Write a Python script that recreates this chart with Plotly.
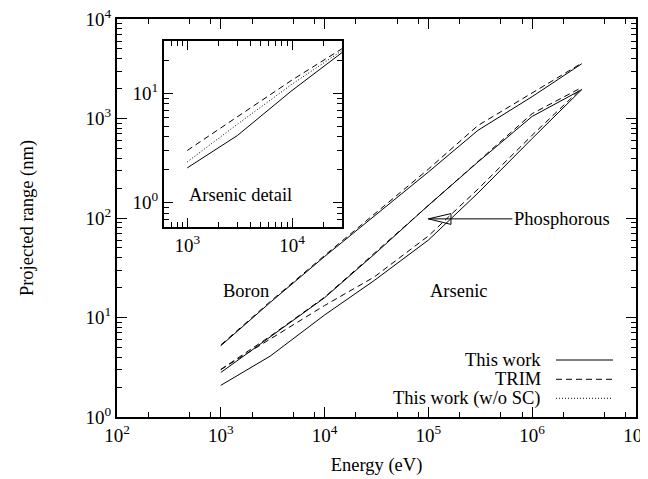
import numpy as np
import plotly.graph_objects as go

# ---------------- data ----------------
energy_ev = [1e3, 3e3, 1e4, 3e4, 1e5, 3e5, 1e6, 3e6]

boron_this_work = [5.2, 14.2, 41, 104, 290, 760, 1660, 3550]
boron_trim = [5.3, 14.5, 42, 110, 310, 850, 1800, 3600]

phos_this_work = [2.8, 6.4, 15.8, 43, 134, 365, 1050, 1950]
phos_trim = [3.0, 6.5, 16.0, 44, 136, 370, 1120, 2050]

arsenic_this_work = [2.08, 4.1, 10.6, 23.5, 60, 178, 630, 1950]
arsenic_trim = [3.0, 6.1, 13.2, 25.5, 66, 195, 680, 2020]

inset_energy_ev = [1e3, 3e3, 1e4, 3e4]
inset_arsenic_this_work = [2.08, 4.1, 10.6, 23.5]
inset_arsenic_trim = [3.0, 6.1, 13.2, 25.5]
inset_arsenic_no_sc = [2.36, 5.2, 12.1, 24.5]

x_tick_exps = [2, 3, 4, 5, 6, 7]
y_tick_exps = [0, 1, 2, 3, 4]
inset_x_tick_exps = [3, 4]
inset_y_tick_exps = [0, 1]

legend_names = ["This work", "TRIM", "This work (w/o SC)"]

FONT = "Liberation Serif, Times New Roman, serif"
TXT = 18.5
TICK = 19
SOLID = "solid"
DASH = "6px,4px"
DOT = "1px,2px"


def pow_labels(exps):
    return ["10<sup>%d</sup>" % e for e in exps]


def minor_vals(lo, hi, mults):
    return [m * 10.0 ** k for k in range(lo, hi) for m in mults]


fig = go.Figure()

main_series = [
    (boron_this_work, SOLID), (boron_trim, DASH),
    (phos_this_work, SOLID), (phos_trim, DASH),
    (arsenic_this_work, SOLID), (arsenic_trim, DASH),
]
for ys, dash in main_series:
    fig.add_trace(go.Scatter(x=energy_ev, y=ys, mode="lines",
                             line=dict(color="black", width=1, dash=dash),
                             showlegend=False, xaxis="x", yaxis="y"))

inset_series = [
    (inset_arsenic_this_work, SOLID),
    (inset_arsenic_trim, DASH),
    (inset_arsenic_no_sc, DOT),
]
for ys, dash in inset_series:
    fig.add_trace(go.Scatter(x=inset_energy_ev, y=ys, mode="lines",
                             line=dict(color="black", width=1, dash=dash),
                             showlegend=False, xaxis="x2", yaxis="y2"))


def axis(rng, exps, minors, domain, anchor, major_len=10, minor_len=5, **kw):
    d = dict(
        type="log", range=rng, domain=domain, anchor=anchor,
        showline=True, linecolor="black", linewidth=2,
        mirror="ticks", ticks="inside", ticklen=major_len, tickwidth=1.3,
        tickcolor="black", showgrid=False, zeroline=False, automargin=False,
        ticklabeloverflow="allow",
        tickmode="array", tickvals=[10.0 ** e for e in exps],
        ticktext=pow_labels(exps),
        minor=dict(tickmode="array", tickvals=minors, ticks="inside",
                   ticklen=minor_len, tickwidth=1, tickcolor="black",
                   showgrid=False),
        tickfont=dict(family=FONT, size=TICK, color="black"),
    )
    d.update(kw)
    return d


# page body has an 8px default margin, so the figure is 8px smaller than the window
fig.update_layout(
    template="none",
    width=640, height=471,
    margin=dict(l=109, r=12, t=11, b=62, autoexpand=False),
    paper_bgcolor="white", plot_bgcolor="white",
    font=dict(family=FONT, size=TXT, color="black"),
    xaxis=axis([2, 7], x_tick_exps, minor_vals(2, 7, [2, 5, 8]), [0, 1], "y",
               title=dict(text="Energy (eV)", font=dict(family=FONT, size=TXT),
                          standoff=13)),
    yaxis=axis([0, 4], y_tick_exps, minor_vals(0, 4, range(2, 10)), [0, 1], "x",
               title=dict(text="Projected range (nm)",
                          font=dict(family=FONT, size=TXT), standoff=47)),
    xaxis2=axis([np.log10(600), np.log10(30000)], inset_x_tick_exps,
                minor_vals(2, 5, range(2, 10)), [0.0906, 0.4335], "y2",
                major_len=9, minor_len=5),
    yaxis2=axis([np.log10(0.6), np.log10(30)], inset_y_tick_exps,
                minor_vals(-1, 2, range(2, 10)), [0.4774, 0.9447], "x2",
                major_len=9, minor_len=5),
    showlegend=False,
)

label_r = 18.6
annots = [
    dict(text="Boron", x=np.log10(energy_ev[0]), y=np.log10(label_r), xref="x", yref="y",
         xanchor="left", yanchor="middle", showarrow=False),
    dict(text="Arsenic", x=np.log10(energy_ev[4]), y=np.log10(label_r), xref="x", yref="y",
         xanchor="left", yanchor="middle", showarrow=False),
    dict(text="Arsenic detail", x=np.log10(inset_energy_ev[0]), y=np.log10(1.17),
         xref="x2", yref="y2", xanchor="left", yanchor="middle", showarrow=False),
]

tip_e, tip_r = 1e5, 98
annots.append(dict(text="Phosphorous", x=np.log10(tip_e), y=np.log10(tip_r),
                   xref="x", yref="y", ax=84, ay=0, xanchor="left",
                   yanchor="middle", showarrow=True, arrowhead=0, arrowwidth=1,
                   arrowcolor="black", standoff=0))

# manual legend (text on the left, line sample on the right)
legend_rows_y = [0.1432, 0.0947, 0.047]
legend_dashes = [SOLID, DASH, DOT]
shapes = []
for name, ry, dash in zip(legend_names, legend_rows_y, legend_dashes):
    annots.append(dict(text=name, x=0.8208, y=ry, xref="paper", yref="paper",
                       xanchor="right", yanchor="middle", showarrow=False))
    shapes.append(dict(type="line", xref="paper", yref="paper",
                       x0=0.8459, x1=0.9557, y0=ry, y1=ry,
                       line=dict(color="black", width=1, dash=dash)))

# open arrow head for the "Phosphorous" pointer (data values on log axes)
shapes.append(dict(type="path", xref="x", yref="y",
                   path="M %g,%g L %g,%g L %g,%g Z" % (
                       tip_e, tip_r,
                       tip_e * 1.65, tip_r * 1.13,
                       tip_e * 1.65, tip_r * 0.88),
                   line=dict(color="black", width=1), fillcolor="rgba(0,0,0,0)"))

fig.update_layout(annotations=annots, shapes=shapes)

fig.write_html("out.html")
